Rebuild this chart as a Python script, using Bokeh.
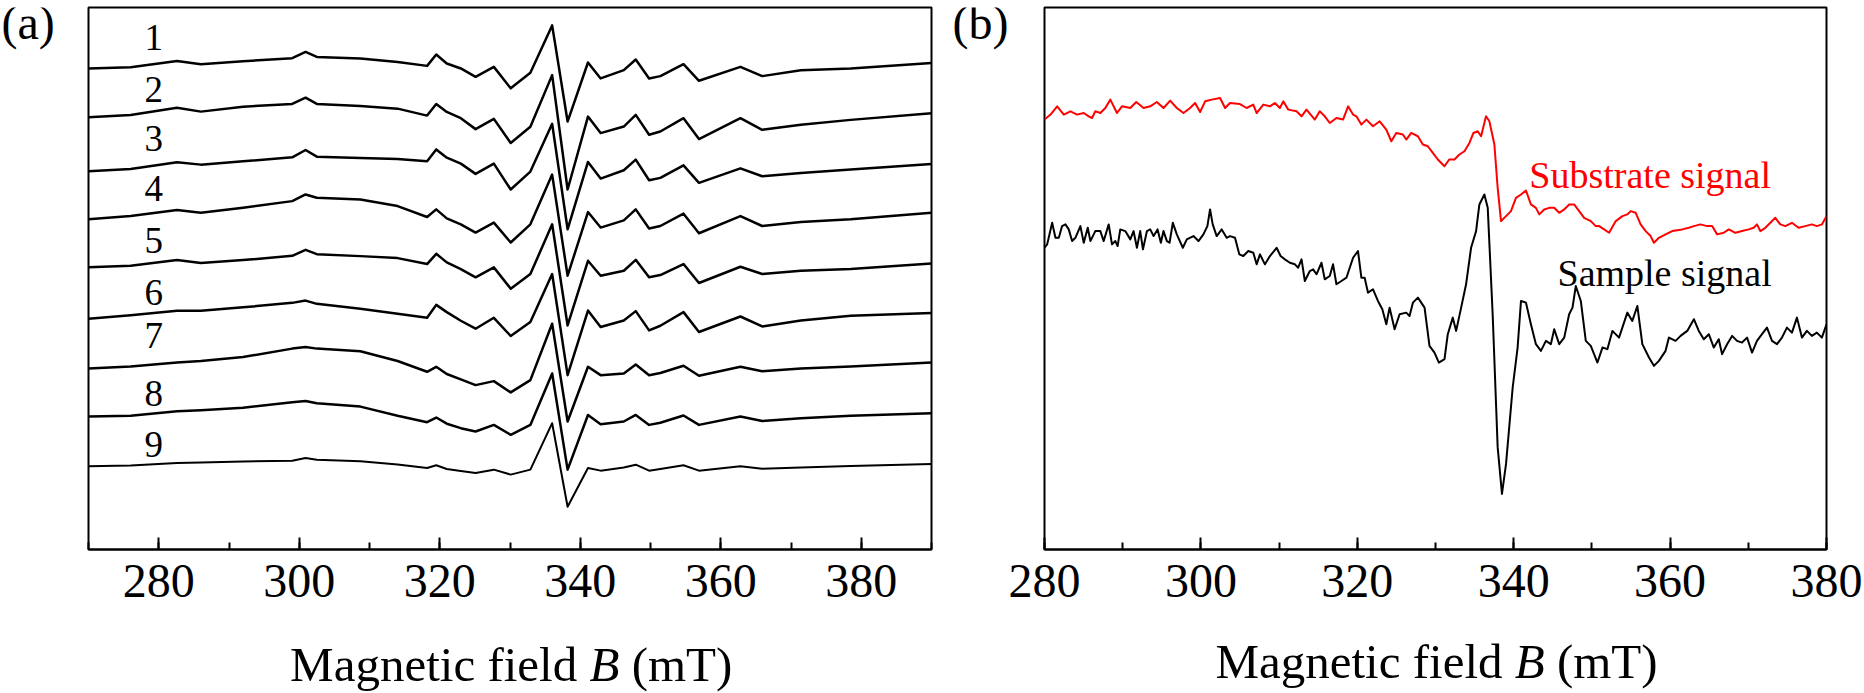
from bokeh.plotting import figure
from bokeh.layouts import row, column
from bokeh.models import Range1d, SingleIntervalTicker
from bokeh.embed import file_html
from bokeh.resources import INLINE
from bokeh.core.properties import value

FONT = "Liberation Serif"
TEXT_RISE = 11  # px: Bokeh draws alphabetic-baseline text this much lower than asked

# ---------------- Panel (a): nine EPR spectra (intensity, a.u., offset) ----------------
FIELD_A = [270, 276, 282.6, 286, 292, 299, 300.9, 302.5, 308.7, 314, 318.2, 319.5, 321, 323,
           325.1, 327.7, 330.1, 332.9, 336.0, 338.2, 341.1, 342.9, 346.2, 347.9, 349.8, 351.4,
           354.7, 356.9, 362.8, 365.9, 371.4, 378.5, 390]
TRACE_1 = [483.7, 485, 491.3, 488, 491, 494, 500.3, 495.3, 493.7, 490.3, 486.3, 497.7, 488.7, 483.7,
           475.3, 485.3, 463.7, 479.3, 527, 430.3, 489.7, 473.7, 482, 492.7, 473.7, 476, 488, 471.3,
           485.3, 476, 482, 483.7, 489.3]
TRACE_2 = [434.7, 437, 444.3, 440.3, 445.3, 448, 454.3, 448, 446, 443.3, 436.3, 448, 440, 433.7,
           422.7, 433, 408.7, 425, 477, 362, 435.3, 418.7, 425.3, 437, 417, 420.3, 433.7, 412.7,
           433.7, 422, 427, 432, 438.7]
TRACE_3 = [380.3, 382.7, 389.3, 387, 390.3, 394.3, 401.7, 395, 393.7, 392.7, 390.3, 402.3, 394, 388,
           377.7, 388, 362, 380, 428, 322, 389.7, 373, 381.3, 392, 371.3, 373.7, 386.3, 368.7,
           383.3, 375.3, 378.7, 382, 387.7]
TRACE_4 = [332, 335.3, 341.3, 338.7, 343.7, 350.3, 357, 353.7, 352, 345.3, 334.3, 342, 333, 327,
           318.7, 328.7, 308.7, 327, 377, 275.3, 339.3, 323.7, 331, 342, 322.7, 325.3, 337.7, 318,
           335.3, 325.3, 329.3, 332, 338.7]
TRACE_5 = [283.7, 285.3, 291, 288, 291, 295.3, 301.3, 297, 295, 293, 287, 297.3, 288.7, 282,
           273.7, 283.7, 262.3, 277, 327, 225.3, 290.3, 275.3, 280.3, 291.3, 273.7, 276, 287, 268,
           284.3, 277, 280.3, 282, 287.7]
TRACE_6 = [232, 235.5, 240, 240, 243.5, 248, 250.3, 247, 242, 237, 233, 246, 238.7, 230,
           222, 233, 214.7, 228.7, 277, 175.3, 240.3, 223.7, 230.3, 239.7, 220.3, 225, 238.7, 218.7,
           234.3, 224.3, 230.3, 235, 237.7]
TRACE_7 = [182, 184, 188, 189.5, 193.5, 202, 203.7, 202, 199.3, 189.5, 178.7, 183.7, 176.5, 171,
           165.3, 169.3, 158, 170.3, 227, 128.7, 183.7, 175.3, 177, 186, 175.3, 177.5, 184.7, 174.7,
           183.7, 179.3, 182, 184, 188]
TRACE_8 = [133.7, 134.5, 139, 140, 142.5, 148, 149.3, 147, 143.7, 134.5, 128, 132.7, 126.5, 122,
           118.7, 125.3, 115.3, 125.3, 177, 80.3, 135.3, 126, 128.7, 135.3, 125.3, 127.5, 134.7, 125.3,
           133.7, 129.3, 132, 134.5, 137]
TRACE_9 = [83.7, 84.5, 87, 87.5, 88.5, 89.3, 92, 90.3, 88.7, 85.5, 82, 84.7, 81, 79,
           77, 80.3, 75.3, 80.3, 127, 43, 82, 79.3, 82.5, 85.3, 79.3, 81, 84.7, 79.3,
           83.7, 81.3, 82.5, 84, 86]
TRACES_A = [TRACE_1, TRACE_2, TRACE_3, TRACE_4, TRACE_5, TRACE_6, TRACE_7, TRACE_8, TRACE_9]
TRACE_NAMES = ["1", "2", "3", "4", "5", "6", "7", "8", "9"]
NAME_X = 279.3
NAME_Y = [504, 452, 402, 352, 300, 247, 204, 146, 95]

# ---------------- Panel (b): substrate vs sample ----------------
SUB_FIELD = [280.0, 280.77, 281.62, 282.47, 283.32, 284.17, 285.02, 285.65, 286.08, 286.5, 287.14,
             287.78, 288.42, 289.27, 289.91, 290.97, 291.73, 292.67, 293.52, 294.37, 295.22, 296.07,
             296.92, 297.77, 298.62, 299.26, 299.9, 300.54, 301.39, 302.45, 303.09, 303.72, 305.0,
             305.85, 306.7, 307.13, 307.98, 308.83, 309.46, 310.1, 310.53, 311.17, 312.23, 312.87,
             313.5, 314.57, 315.2, 315.84, 316.48, 317.33, 318.18, 318.82, 319.46, 319.88, 320.52,
             321.16, 322.01, 322.86, 323.71, 324.35, 324.98, 325.83, 326.26, 326.9, 327.75, 328.38,
             329.02, 329.66, 330.3, 331.15, 331.75, 332.43, 333.06, 333.7, 334.34, 334.85, 335.4,
             335.83, 336.46, 336.89, 337.53, 337.95, 338.38, 339.02, 339.65, 340.29, 340.93, 341.57,
             342.2, 342.84, 343.27, 343.9, 344.54, 345.18, 345.82, 346.46, 347.09, 347.73, 348.37,
             349.01, 349.86, 350.49, 350.92, 351.56, 352.2, 353.05, 353.9, 354.53, 354.96, 355.6,
             356.23, 356.87, 357.51, 357.93, 358.57, 359.42, 360.27, 361.55, 362.4, 363.04, 363.89,
             364.74, 365.38, 366.01, 366.86, 367.5, 368.35, 369.2, 370.05, 370.69, 371.11, 371.54,
             372.18, 372.82, 373.45, 374.09, 374.73, 375.58, 376.43, 377.28, 378.13, 378.77, 379.41,
             380.0]
SUB_SIGNAL = [430.7, 435.7, 444.0, 435.7, 439.0, 435.7, 437.3, 434.0, 432.3, 439.0, 437.3,
              442.3, 450.7, 437.3, 444.0, 442.3, 448.3, 442.3, 444.0, 448.3, 442.3, 449.7,
              442.3, 437.3, 442.3, 447.3, 438.3, 449.0, 450.7, 452.3, 442.3, 447.3, 446.3,
              442.3, 445.7, 437.3, 445.7, 444.0, 447.3, 442.3, 449.0, 440.7, 439.0, 434.0,
              440.7, 430.7, 439.0, 434.0, 427.3, 432.3, 430.7, 444.0, 435.7, 434.0, 425.7,
              430.7, 424.0, 429.0, 420.7, 409.0, 417.3, 415.7, 410.7, 417.3, 414.0, 405.7,
              404.0, 397.3, 390.7, 384.0, 390.7, 390.7, 395.7, 399.0, 407.3, 417.3, 419.0,
              414.0, 434.0, 429.0, 405.7, 362.3, 329.0, 334.0, 339.0, 352.3, 355.7, 359.7,
              345.7, 342.3, 335.7, 340.7, 342.3, 342.3, 337.3, 340.7, 345.7, 345.7, 339.0,
              332.3, 329.0, 324.0, 324.0, 320.7, 317.3, 329.0, 334.0, 335.7, 339.0, 337.3,
              325.7, 319.0, 314.0, 307.3, 312.3, 315.7, 319.0, 320.7, 322.3, 324.0, 325.7,
              324.0, 324.0, 315.7, 317.3, 320.7, 317.3, 319.0, 320.7, 322.3, 325.7, 319.0,
              322.3, 327.3, 332.3, 325.7, 324.0, 327.3, 322.3, 324.0, 325.7, 324.0, 325.7,
              334.0]
SAMPLE_FIELD = [280.0, 280.34, 280.98, 281.4, 281.83, 282.25, 282.68, 283.1, 283.53, 283.95, 284.59,
                285.02, 285.53, 285.87, 286.5, 287.14, 287.57, 288.21, 288.63, 289.06, 289.35, 289.69,
                290.33, 290.97, 291.39, 291.82, 292.24, 292.59, 293.1, 293.52, 293.95, 294.46, 294.88,
                295.22, 295.65, 295.99, 296.41, 296.92, 297.69, 298.2, 299.05, 299.69, 300.32, 300.83,
                301.17, 301.51, 302.02, 302.66, 303.3, 303.72, 304.36, 304.91, 305.43, 306.06, 306.7,
                307.13, 307.55, 308.19, 308.83, 309.68, 310.19, 310.74, 311.38, 312.02, 312.44, 312.87,
                313.29, 313.93, 314.35, 314.78, 315.42, 315.84, 316.48, 316.9, 317.33, 317.97, 318.61,
                319.46, 320.09, 320.52, 320.94, 321.37, 322.01, 322.64, 323.2, 323.71, 324.13, 324.77,
                325.41, 326.26, 326.68, 327.11, 327.75, 328.6, 329.23, 329.87, 330.43, 331.15, 331.57,
                332.21, 332.64, 333.28, 333.91, 334.55, 335.19, 335.61, 336.25, 336.68, 337.31, 337.95,
                338.5, 339.02, 339.87, 340.5, 340.93, 341.57, 342.2, 342.84, 343.48, 344.12, 344.75,
                345.18, 345.82, 346.46, 347.09, 347.52, 347.94, 348.58, 349.22, 349.86, 350.71, 351.35,
                351.98, 352.62, 353.47, 354.53, 355.17, 355.81, 356.45, 357.3, 357.93, 358.57, 359.42,
                359.85, 360.7, 361.34, 362.19, 363.04, 363.67, 364.31, 364.95, 365.59, 366.22, 366.65,
                367.29, 367.93, 368.56, 369.2, 369.84, 370.48, 371.11, 371.75, 372.39, 373.03, 373.67,
                374.3, 374.94, 375.58, 376.22, 376.86, 377.49, 378.13, 378.77, 379.41, 380.0]
SAMPLE_SIGNAL = [302.3, 305.7, 327.3, 312.3, 312.3, 324.0, 325.7, 320.7, 309.0, 312.3, 324.0,
                 307.3, 322.3, 309.0, 319.0, 319.0, 309.0, 325.7, 305.7, 309.0, 304.0, 320.7,
                 319.0, 310.7, 319.0, 302.3, 319.0, 300.7, 319.0, 320.7, 314.0, 320.7, 307.3,
                 319.0, 309.0, 307.3, 327.3, 315.7, 302.3, 310.7, 314.0, 309.0, 315.7, 324.0,
                 340.7, 325.7, 314.0, 320.7, 312.3, 314.0, 312.3, 295.7, 294.0, 299.0, 297.3,
                 285.7, 295.7, 285.7, 294.0, 302.3, 294.0, 290.7, 287.3, 285.7, 282.3, 290.7,
                 269.0, 279.0, 280.7, 275.7, 287.3, 270.7, 274.0, 285.7, 265.7, 269.0, 272.3,
                 292.3, 299.0, 272.3, 272.3, 257.3, 260.7, 249.0, 240.7, 225.7, 242.3, 220.7,
                 235.7, 237.3, 234.0, 247.3, 252.3, 242.3, 204.0, 197.3, 187.3, 190.7, 215.7,
                 232.3, 219.0, 242.3, 265.7, 302.3, 319.0, 345.7, 355.7, 342.3, 235.7, 102.3,
                 55.7, 85.7, 162.3, 202.3, 249.0, 247.3, 225.7, 205.7, 199.0, 209.0, 205.7,
                 220.7, 205.7, 212.3, 235.7, 242.3, 264.0, 249.0, 209.0, 204.0, 187.3, 202.3,
                 200.7, 219.0, 212.3, 237.3, 229.0, 244.0, 205.7, 192.3, 184.0, 189.0, 199.0,
                 212.3, 209.0, 214.0, 219.0, 230.7, 219.0, 210.7, 215.7, 202.3, 210.7, 195.7,
                 205.7, 214.0, 209.0, 207.3, 212.3, 197.3, 209.0, 215.7, 222.3, 209.0, 205.7,
                 212.3, 222.3, 217.3, 232.3, 212.3, 219.0, 214.0, 217.3, 212.3, 225.7]
SIGNAL_TEXTS = ["Substrate signal", "Sample signal"]
SIGNAL_TEXT_X = [342.0, 345.6]
SIGNAL_TEXT_Y = [364, 266]
SIGNAL_TEXT_COLORS = ["#ff0000", "black"]
X_LABEL = ("Magnetic field", "B", "(mT)")
PANEL_TAGS = ("(a)", "(b)")
TICK_STEP = 20

ROW_H = 628
LABEL_H = 65
PAGE_H = ROW_H + LABEL_H


def blank(width, height):
    f = figure(width=width, height=height, x_range=Range1d(0, width), y_range=Range1d(0, height),
               min_border=0, x_axis_location=None, y_axis_location=None,
               toolbar_location=None, output_backend="svg", title=None)
    f.outline_line_color = None
    f.xgrid.visible = False
    f.ygrid.visible = False
    f.background_fill_color = "white"
    f.border_fill_color = "white"
    return f


def style(p, label_standoff):
    p.outline_line_color = "black"
    p.outline_line_width = 2
    p.xgrid.visible = False
    p.ygrid.visible = False
    p.background_fill_color = "white"
    p.border_fill_color = "white"
    ax = p.xaxis[0]
    ax.ticker = SingleIntervalTicker(interval=TICK_STEP, num_minor_ticks=2)
    ax.axis_line_color = "black"
    ax.axis_line_width = 2
    ax.major_tick_in = 12
    ax.major_tick_out = 0
    ax.major_tick_line_width = 2
    ax.major_tick_line_color = "black"
    ax.minor_tick_in = 7
    ax.minor_tick_out = 0
    ax.minor_tick_line_width = 2
    ax.minor_tick_line_color = "black"
    ax.major_label_text_font = FONT
    ax.major_label_text_font_size = "48px"
    ax.major_label_text_color = "black"
    ax.major_label_standoff = label_standoff


def tag_fig(width, tag, x0):
    f = blank(width, ROW_H)
    # "(a)"/"(b)": baseline 28 px below the top of the page
    f.text(x=[x0], y=[ROW_H - 28 + TEXT_RISE], text=[tag], text_font=value(FONT),
           text_font_size="48px", text_align="left", text_baseline="alphabetic",
           text_color="black")
    return f


def add_xlabel(f, xc, page_baseline):
    size = 49
    w1 = 5.86 * size      # "Magnetic field"
    sp = 0.25 * size      # a space
    wb = 0.611 * size     # italic B
    total = (5.86 + 0.25 + 0.611 + 0.25 + 2.055) * size
    start = xc - total / 2
    b_left = start + w1 + sp
    y = PAGE_H - page_baseline + TEXT_RISE   # strip coordinates (0 at page bottom)
    f.text(x=[b_left - sp], y=[y], text=[X_LABEL[0]], text_font=value(FONT),
           text_font_size=f"{size}px", text_align="right", text_baseline="alphabetic",
           text_color="black")
    f.text(x=[b_left], y=[y], text=[X_LABEL[1]], text_font=value(FONT),
           text_font_style="italic", text_font_size=f"{size}px", text_align="left",
           text_baseline="alphabetic", text_color="black")
    f.text(x=[b_left + wb + sp], y=[y], text=[X_LABEL[2]], text_font=value(FONT),
           text_font_size=f"{size}px", text_align="left", text_baseline="alphabetic",
           text_color="black")


# ---- tag (a) + figure (a)
tag_a = tag_fig(60, PANEL_TAGS[0], 1)
pa = figure(width=892, height=ROW_H, min_border_left=28, min_border_right=21,
            min_border_top=7, min_border_bottom=ROW_H - 552, x_range=Range1d(270, 390),
            y_range=Range1d(0, 545), y_axis_location=None, toolbar_location=None,
            output_backend="svg", title=None)
style(pa, 15)
for i, tr in enumerate(TRACES_A):
    pa.line(FIELD_A, tr, line_color="black", line_width=2.0 if i == 8 else 2.5, line_join="round")
pa.text(x=[NAME_X] * len(TRACE_NAMES), y=[v + TEXT_RISE for v in NAME_Y], text=TRACE_NAMES,
        text_font=value(FONT), text_font_size="37px", text_align="center",
        text_baseline="alphabetic", text_color="black")

# ---- tag (b) + figure (b)
tag_b = tag_fig(56, PANEL_TAGS[1], 0)
pb = figure(width=856, height=ROW_H, min_border_left=36, min_border_right=38,
            min_border_top=6, min_border_bottom=ROW_H - 549, x_range=Range1d(280, 380),
            y_range=Range1d(0, 543), y_axis_location=None, toolbar_location=None,
            output_backend="svg", title=None)
style(pb, 15)
pb.line(SUB_FIELD, SUB_SIGNAL, line_color="#ff0000", line_width=2.0, line_join="round")
pb.line(SAMPLE_FIELD, SAMPLE_SIGNAL, line_color="black", line_width=2.0, line_join="round")
pb.text(x=SIGNAL_TEXT_X, y=[v + TEXT_RISE for v in SIGNAL_TEXT_Y], text=SIGNAL_TEXTS,
        text_color=SIGNAL_TEXT_COLORS, text_font=value(FONT), text_font_size="38px",
        text_align="left", text_baseline="alphabetic")

# ---- axis titles strip
labels = blank(1864, LABEL_H)
add_xlabel(labels, 510.7, 675)   # panel (a)
add_xlabel(labels, 1436, 672)    # panel (b)

layout = column(row(tag_a, pa, tag_b, pb), labels)
open("out.html", "w").write(file_html(layout, INLINE))
